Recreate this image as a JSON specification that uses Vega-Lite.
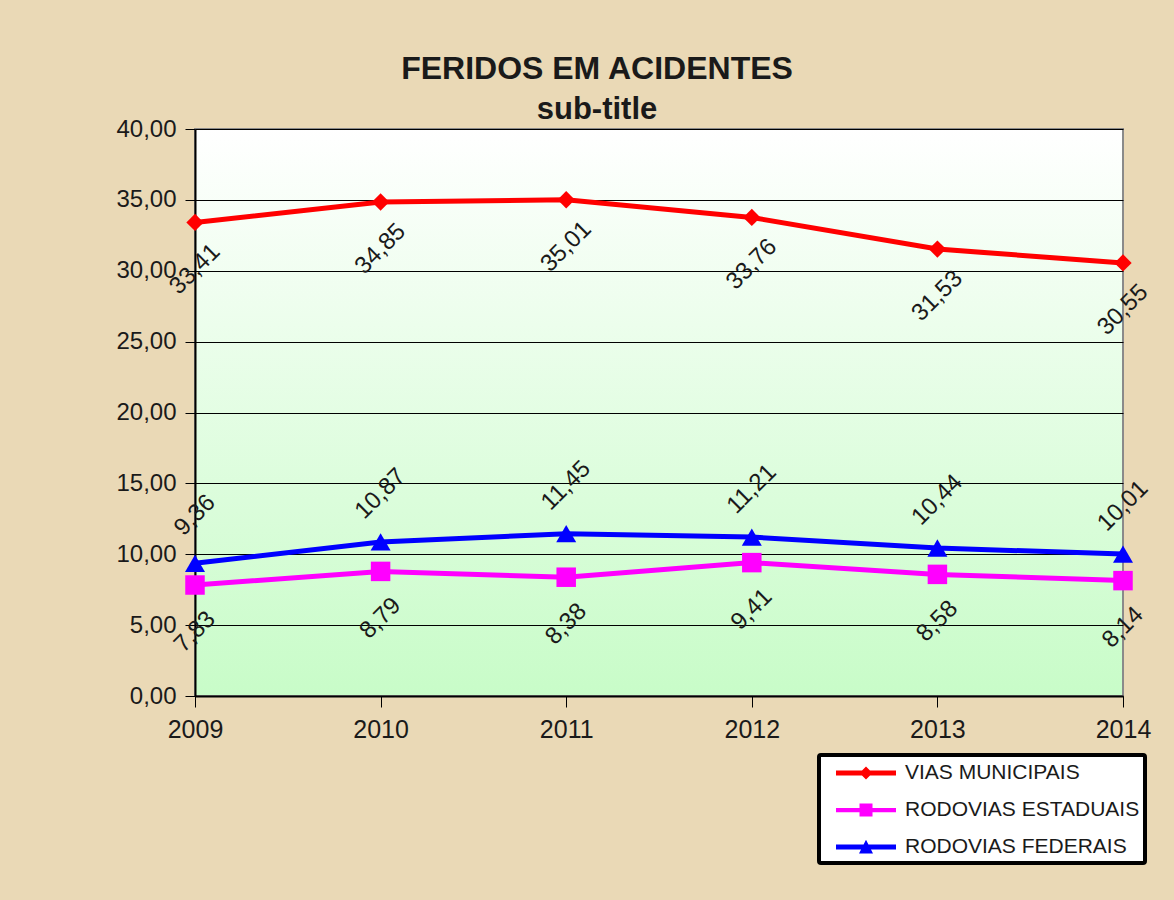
{
  "$schema": "https://vega.github.io/schema/vega-lite/v6.json",
  "width": 928,
  "height": 567,
  "autosize": "none",
  "padding": {"left": 195, "top": 129, "right": 51, "bottom": 204},
  "background": "#EAD9B6",
  "title": {
    "text": "FERIDOS EM ACIDENTES",
    "subtitle": "sub-title",
    "anchor": "middle",
    "dx": -62,
    "offset": -9,
    "font": "Liberation Sans",
    "fontSize": 32,
    "fontWeight": "bold",
    "color": "#1a1a1a",
    "subtitleFont": "Liberation Sans",
    "subtitleFontSize": 31,
    "subtitleFontWeight": "bold",
    "subtitleColor": "#1a1a1a",
    "subtitlePadding": 9
  },
  "config": {
    "font": "Liberation Sans",
    "locale": {"number": {"decimal": ",", "thousands": ".", "grouping": [3], "currency": ["R$", ""]}},
    "view": {
      "stroke": "#8a8a8a",
      "strokeWidth": 2,
      "fill": {"gradient": "linear", "x1": 0, "y1": 0, "x2": 0, "y2": 1, "stops": [{"offset": 0, "color": "#FFFFFF"}, {"offset": 1, "color": "#C8FCC8"}]}
    }
  },
  "data": {
    "values": [
      {"ano": "2009", "serie": "VIAS MUNICIPAIS", "valor": 33.41},
      {"ano": "2010", "serie": "VIAS MUNICIPAIS", "valor": 34.85},
      {"ano": "2011", "serie": "VIAS MUNICIPAIS", "valor": 35.01},
      {"ano": "2012", "serie": "VIAS MUNICIPAIS", "valor": 33.76},
      {"ano": "2013", "serie": "VIAS MUNICIPAIS", "valor": 31.53},
      {"ano": "2014", "serie": "VIAS MUNICIPAIS", "valor": 30.55},
      {"ano": "2009", "serie": "RODOVIAS ESTADUAIS", "valor": 7.83},
      {"ano": "2010", "serie": "RODOVIAS ESTADUAIS", "valor": 8.79},
      {"ano": "2011", "serie": "RODOVIAS ESTADUAIS", "valor": 8.38},
      {"ano": "2012", "serie": "RODOVIAS ESTADUAIS", "valor": 9.41},
      {"ano": "2013", "serie": "RODOVIAS ESTADUAIS", "valor": 8.58},
      {"ano": "2014", "serie": "RODOVIAS ESTADUAIS", "valor": 8.14},
      {"ano": "2009", "serie": "RODOVIAS FEDERAIS", "valor": 9.36},
      {"ano": "2010", "serie": "RODOVIAS FEDERAIS", "valor": 10.87},
      {"ano": "2011", "serie": "RODOVIAS FEDERAIS", "valor": 11.45},
      {"ano": "2012", "serie": "RODOVIAS FEDERAIS", "valor": 11.21},
      {"ano": "2013", "serie": "RODOVIAS FEDERAIS", "valor": 10.44},
      {"ano": "2014", "serie": "RODOVIAS FEDERAIS", "valor": 10.01}
    ]
  },
  "encoding": {
    "x": {
      "field": "ano",
      "type": "ordinal",
      "scale": {"type": "point", "padding": 0},
      "axis": {
        "title": null,
        "labelAngle": 0,
        "labelFontSize": 25,
        "labelColor": "#1a1a1a",
        "labelPadding": 10,
        "tickSize": 11,
        "tickColor": "#000000",
        "domainColor": "#000000",
        "domainWidth": 2,
        "grid": false
      }
    },
    "y": {
      "field": "valor",
      "type": "quantitative",
      "scale": {"domain": [0, 40], "nice": false},
      "axis": {
        "title": null,
        "values": [0, 5, 10, 15, 20, 25, 30, 35, 40],
        "format": ".2f",
        "labelFontSize": 24,
        "labelColor": "#1a1a1a",
        "labelPadding": 9,
        "tickSize": 10,
        "tickColor": "#000000",
        "domainColor": "#000000",
        "domainWidth": 2,
        "grid": true,
        "gridColor": "#000000",
        "gridWidth": 1,
        "gridOpacity": 1
      }
    },
    "color": {
      "field": "serie",
      "type": "nominal",
      "sort": ["VIAS MUNICIPAIS", "RODOVIAS ESTADUAIS", "RODOVIAS FEDERAIS"],
      "scale": {"domain": ["VIAS MUNICIPAIS", "RODOVIAS ESTADUAIS", "RODOVIAS FEDERAIS"], "range": ["#FF0000", "#FF00FF", "#0000FF"]},
      "legend": {
        "title": null,
        "orient": "none",
        "legendX": 624,
        "legendY": 626,
        "direction": "vertical",
        "fillColor": "#FFFFFF",
        "strokeColor": "#000000",
        "padding": 5.5,
        "symbolOffset": 11.5,
        "symbolSize": 625,
        "labelFontSize": 21,
        "labelColor": "#1a1a1a",
        "labelOffset": 44,
        "labelLimit": 400,
        "rowPadding": 14,
        "cornerRadius": 2,
        "encode": {
          "legend": {"update": {"strokeWidth": {"value": 4}}},
          "symbols": {
            "update": {
              "shape": {"signal": "datum.value === 'VIAS MUNICIPAIS' ? 'M-1,-0.2L3.8,-0.2L3.8,0.2L-1,0.2ZM1.4,-0.52L1.92,0L1.4,0.52L0.88,0Z' : datum.value === 'RODOVIAS ESTADUAIS' ? 'M-1,-0.17L3.8,-0.17L3.8,0.17L-1,0.17ZM0.88,-0.52L1.92,-0.52L1.92,0.52L0.88,0.52Z' : 'M-1,-0.2L3.8,-0.2L3.8,0.2L-1,0.2ZM1.4,-0.58L1.96,0.52L0.84,0.52Z'"},
              "size": {"value": 625},
              "fill": {"scale": "color", "field": "value"},
              "strokeWidth": {"value": 0},
              "opacity": {"value": 1}
            }
          }
        }
      }
    }
  },
  "layer": [
    {"mark": {"type": "line", "strokeWidth": 5}},
    {
      "transform": [{"filter": "datum.serie === 'VIAS MUNICIPAIS'"}],
      "mark": {"type": "point", "filled": true, "opacity": 1, "shape": "diamond", "size": 300}
    },
    {
      "transform": [{"filter": "datum.serie === 'RODOVIAS ESTADUAIS'"}],
      "mark": {"type": "point", "filled": true, "opacity": 1, "shape": "square", "size": 380}
    },
    {
      "transform": [{"filter": "datum.serie === 'RODOVIAS FEDERAIS'"}],
      "mark": {"type": "point", "filled": true, "opacity": 1, "shape": "triangle-up", "size": 400}
    },
    {
      "transform": [{"filter": "datum.serie !== 'RODOVIAS FEDERAIS'"}],
      "mark": {"type": "text", "angle": -45, "align": "center", "baseline": "middle", "yOffset": 47, "fontSize": 24, "color": "#1a1a1a"},
      "encoding": {"color": {"value": "#1a1a1a"}, "text": {"field": "valor", "type": "quantitative", "format": ".2f"}}
    },
    {
      "transform": [{"filter": "datum.serie === 'RODOVIAS FEDERAIS'"}],
      "mark": {"type": "text", "angle": -45, "align": "center", "baseline": "middle", "yOffset": -48, "fontSize": 24, "color": "#1a1a1a"},
      "encoding": {"color": {"value": "#1a1a1a"}, "text": {"field": "valor", "type": "quantitative", "format": ".2f"}}
    }
  ]
}
